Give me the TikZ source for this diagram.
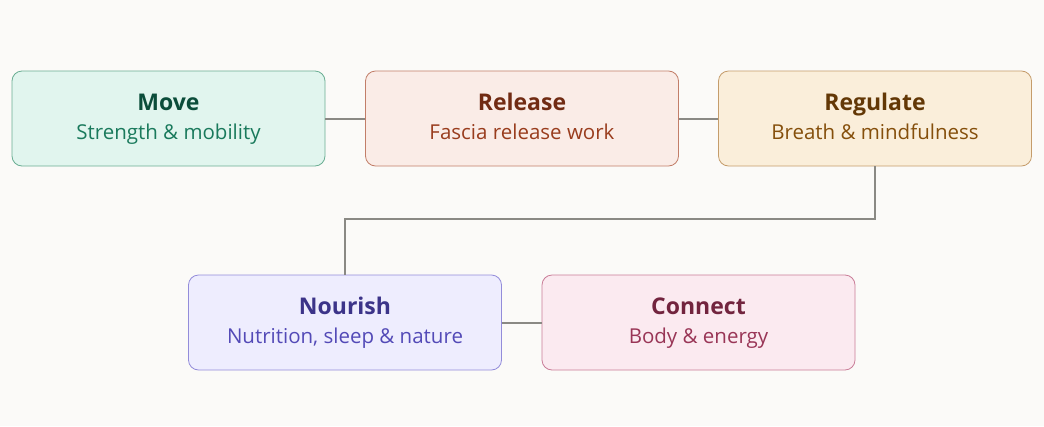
\documentclass[tikz,border=0pt]{standalone}
\usepackage{fontspec}
\setmainfont{Open Sans}
\usepackage{xcolor}
\usetikzlibrary{calc}

\definecolor{bgc}{HTML}{FBFAF8}
\definecolor{linec}{HTML}{8A8984}
% box colours
\definecolor{movefill}{HTML}{E1F5EE}\definecolor{movedraw}{HTML}{6AAE93}
\definecolor{movetitle}{HTML}{0B4D3A}\definecolor{movesub}{HTML}{1A7A5C}
\definecolor{relfill}{HTML}{FAECE7}\definecolor{reldraw}{HTML}{C27E69}
\definecolor{reltitle}{HTML}{712B13}\definecolor{relsub}{HTML}{993C1D}
\definecolor{regfill}{HTML}{FAEEDA}\definecolor{regdraw}{HTML}{C59C6B}
\definecolor{regtitle}{HTML}{633806}\definecolor{regsub}{HTML}{854F0B}
\definecolor{nourfill}{HTML}{EEEDFE}\definecolor{nourdraw}{HTML}{938CDA}
\definecolor{nourtitle}{HTML}{3C3489}\definecolor{noursub}{HTML}{534AB7}
\definecolor{confill}{HTML}{FBEAF0}\definecolor{condraw}{HTML}{C97D98}
\definecolor{contitle}{HTML}{72243E}\definecolor{consub}{HTML}{993556}

\begin{document}
\begin{tikzpicture}[x=1pt, y=-1pt, step node/.style={rectangle, rounded corners=10pt, minimum width=313pt, minimum height=95pt, line width=0.8pt, inner sep=0pt}, title/.style={anchor=base, inner sep=0pt, font=\fontsize{23}{27}\selectfont\bfseries}, sub/.style={anchor=base, inner sep=0pt, font=\fontsize{20.5}{24}\selectfont}, link/.style={draw=linec, line width=2pt}]
\fill[bgc] (0,0) rectangle (1044,426);
\useasboundingbox (0,0) rectangle (1044,426);
\node[step node, fill=movefill, draw=movedraw] (move) at (168.5,118.5) {};
\node[step node, fill=relfill, draw=reldraw] (release) at (522,118.5) {};
\node[step node, fill=regfill, draw=regdraw] (regulate) at (875,118.5) {};
\node[step node, fill=nourfill, draw=nourdraw] (nourish) at (345,322.5) {};
\node[step node, fill=confill, draw=condraw] (connect) at (698.5,322.5) {};
% texts
\node[title, movetitle] (movet) at ([yshift=8.5pt]move.center) {Move};
\node[sub, movesub] (moves) at ([yshift=-20.5pt]move.center) {Strength \& mobility};
\node[title, reltitle] (releaset) at ([yshift=8.5pt]release.center) {Release};
\node[sub, relsub] (releases) at ([yshift=-20.5pt]release.center) {Fascia release work};
\node[title, regtitle] (regulatet) at ([yshift=8.5pt]regulate.center) {Regulate};
\node[sub, regsub] (regulates) at ([yshift=-20.5pt]regulate.center) {Breath \& mindfulness};
\node[title, nourtitle] (nourisht) at ([yshift=8.5pt]nourish.center) {Nourish};
\node[sub, noursub] (nourishs) at ([yshift=-20.5pt]nourish.center) {Nutrition, sleep \& nature};
\node[title, contitle] (connectt) at ([yshift=8.5pt]connect.center) {Connect};
\node[sub, consub] (connects) at ([yshift=-20.5pt]connect.center) {Body \& energy};
\coordinate (bend1) at (875,219);
\coordinate (bend2) at (345,219);
\path[link]
(move) edge (release)
(release) edge (regulate)
(nourish) edge (connect);
\draw[link] (regulate.south) -- (bend1) -- (bend2) -- (nourish.north);
\end{tikzpicture}
\end{document}
